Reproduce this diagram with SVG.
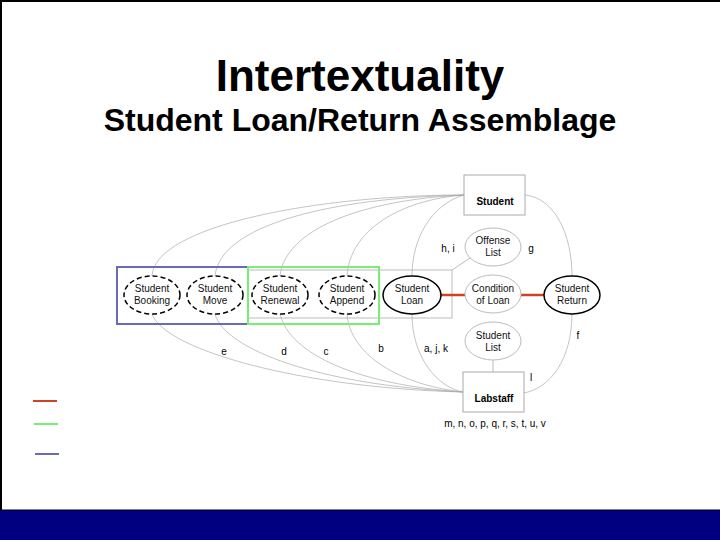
<svg xmlns="http://www.w3.org/2000/svg" width="720" height="540" viewBox="0 0 720 540">
<style>
.t{font-family:"Liberation Sans",Arial,sans-serif;fill:#000}
.title{font-size:44px;font-weight:bold;text-anchor:middle}
.sub{font-size:32px;font-weight:bold;text-anchor:middle}
.n{font-size:10px;text-anchor:middle;fill:#111}
.b{font-size:10px;font-weight:bold;text-anchor:middle}
.lbl{font-size:10px;text-anchor:middle}
.dash{fill:#fff;stroke:#000;stroke-width:1.5;stroke-dasharray:5,3}
.solid{fill:#fff;stroke:#000;stroke-width:1.5}
.grey{fill:#fff;stroke:#bbb;stroke-width:1}
.box{fill:#fff;stroke:#aaa;stroke-width:1}
.curve{fill:none;stroke:#aaa;stroke-width:0.7}
.red{stroke:#cc4422;stroke-width:2.5;fill:none}
</style>
<rect x="0" y="0" width="720" height="540" fill="#fff"/>
<line x1="0" y1="1" x2="720" y2="1" stroke="#000" stroke-width="2"/>
<line x1="1" y1="0" x2="1" y2="510" stroke="#000" stroke-width="2"/>
<rect x="0" y="510" width="720" height="30" fill="#000080"/>
<line x1="0" y1="510" x2="720" y2="510" stroke="#000" stroke-width="1"/>

<text class="t title" x="360" y="91">Intertextuality</text>
<text class="t sub" x="360" y="131">Student Loan/Return Assemblage</text>

<g id="legend">
<line x1="33" y1="401" x2="57" y2="401" stroke="#cc4422" stroke-width="2"/>
<line x1="34" y1="424" x2="58" y2="424" stroke="#77ee77" stroke-width="2"/>
<line x1="35" y1="454" x2="59" y2="454" stroke="#6a6ab8" stroke-width="2"/>
</g>

<g id="group-rect">
<rect x="248" y="270" width="204" height="48" fill="none" stroke="#bbb" stroke-width="1"/>
</g>

<g id="connectors">
<path class="curve" d="M464,195 C320,195 155,225 152,276"/>
<path class="curve" d="M464,195 C330,198 220,225 215,276"/>
<path class="curve" d="M464,195 C360,200 285,230 280,276"/>
<path class="curve" d="M464,195 C400,200 350,230 347,276"/>
<path class="curve" d="M464,195 C430,205 412,240 412,276"/>
<path class="curve" d="M152,314 C165,350 300,388 463,392"/>
<path class="curve" d="M215,314 C225,350 320,385 463,392"/>
<path class="curve" d="M280,314 C290,355 360,385 463,392"/>
<path class="curve" d="M347,314 C350,355 400,385 463,392"/>
<path class="curve" d="M412,314 C412,360 440,388 463,392"/>
<path class="curve" d="M525,195 C555,198 572,235 572,276"/>
<path class="curve" d="M572,313 C572,360 550,388 524,393"/>
<line x1="452" y1="270" x2="470" y2="258" stroke="#bbb" stroke-width="1"/>
<line x1="493" y1="360" x2="493" y2="372" stroke="#bbb" stroke-width="1"/>
<line class="red" x1="441" y1="295" x2="465" y2="295"/>
<line class="red" x1="521" y1="295" x2="544" y2="295"/>
</g>

<g id="blue-group"><rect x="117" y="267" width="131" height="57" fill="none" stroke="#6a6ab8" stroke-width="2"/></g>
<g id="green-group"><rect x="248" y="267" width="131" height="57" fill="none" stroke="#77ee77" stroke-width="2"/></g>

<g id="student-booking"><ellipse class="dash" cx="152" cy="295" rx="28" ry="19"/><text class="t n" x="152" y="292">Student</text><text class="t n" x="152" y="304">Booking</text></g>
<g id="student-move"><ellipse class="dash" cx="215" cy="295" rx="28" ry="19"/><text class="t n" x="215" y="292">Student</text><text class="t n" x="215" y="304">Move</text></g>
<g id="student-renewal"><ellipse class="dash" cx="280" cy="295" rx="28" ry="19"/><text class="t n" x="280" y="292">Student</text><text class="t n" x="280" y="304">Renewal</text></g>
<g id="student-append"><ellipse class="dash" cx="347" cy="295" rx="28" ry="19"/><text class="t n" x="347" y="292">Student</text><text class="t n" x="347" y="304">Append</text></g>
<g id="student-loan"><ellipse class="solid" cx="412" cy="295" rx="29" ry="19"/><text class="t n" x="412" y="292">Student</text><text class="t n" x="412" y="304">Loan</text></g>
<g id="offense-list"><ellipse class="grey" cx="493" cy="247" rx="28" ry="19"/><text class="t n" x="493" y="244">Offense</text><text class="t n" x="493" y="256">List</text></g>
<g id="condition-of-loan"><ellipse class="grey" cx="493" cy="294" rx="28" ry="19"/><text class="t n" x="493" y="292">Condition</text><text class="t n" x="493" y="304">of Loan</text></g>
<g id="student-list"><ellipse class="grey" cx="493" cy="341" rx="28" ry="19"/><text class="t n" x="493" y="339">Student</text><text class="t n" x="493" y="351">List</text></g>
<g id="student-return"><ellipse class="solid" cx="572" cy="295" rx="28" ry="19"/><text class="t n" x="572" y="292">Student</text><text class="t n" x="572" y="304">Return</text></g>
<g id="student"><rect class="box" x="464" y="175" width="61" height="40"/><text class="t b" x="495" y="205">Student</text></g>
<g id="labstaff"><rect class="box" x="463" y="372" width="61" height="40"/><text class="t b" x="494" y="402">Labstaff</text></g>

<g id="labels">
<text class="t lbl" x="448" y="252">h, i</text>
<text class="t lbl" x="531" y="252">g</text>
<text class="t lbl" x="578" y="339">f</text>
<text class="t lbl" x="531" y="381">l</text>
<text class="t lbl" x="436" y="352">a, j, k</text>
<text class="t lbl" x="381" y="352">b</text>
<text class="t lbl" x="326" y="355">c</text>
<text class="t lbl" x="284" y="355">d</text>
<text class="t lbl" x="224" y="355">e</text>
<text class="t lbl" x="495" y="427">m, n, o, p, q, r, s, t, u, v</text>
</g>
</svg>
